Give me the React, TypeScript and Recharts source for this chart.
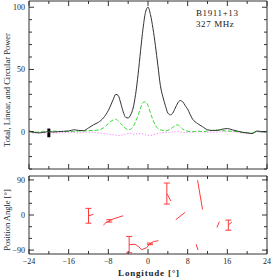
import React from "react";
import {
  Line,
  LineChart,
  ReferenceArea,
  ReferenceLine,
  XAxis,
  YAxis,
  ErrorBar,
} from "recharts";

// longitude grid (deg) for the profile
const lon = [
  -24, -23, -22, -21, -20, -19, -18, -17, -16, -15, -14, -13, -12, -11, -10, -9,
  -8, -7, -6.5, -6, -5.5, -5, -4.5, -4, -3.5, -3, -2.5, -2, -1.5, -1, -0.5, 0,
  0.5, 1, 1.5, 2, 2.5, 3, 3.5, 4, 4.5, 5, 5.5, 6, 6.5, 7, 7.5, 8, 9, 10, 11, 12,
  13, 14, 15, 16, 17, 18, 19, 20, 21, 22, 23, 24,
];
const total = [
  0.5, -0.5, -1, -0.5, 0, -0.3, 0, 0.3, 0.5, 1.5, 1, 0.8, 3, 5.5, 7.5, 11,
  17, 26, 30, 29, 23, 16, 11.5, 11, 13.5, 19, 30, 46, 65, 83, 96, 100,
  94, 83, 69, 53, 37, 28, 21, 15, 13.5, 15, 19, 23, 25, 24, 21, 18, 10, 6.5, 4, 1.5,
  1, 1, 2, 2.5, 1.5, 0.5, -0.5, -1, -1.5, 0.5, 0, 0,
];
const linear = [
  0, -0.5, -0.3, 0.3, 0, 0.5, 0.3, 0, 0.5, 0, 0.5, 0.5, 0.8, 1, 1.3, 3,
  6.5, 9.5, 10, 8.5, 6.5, 4.5, 2.5, 1.5, 2, 4, 8, 13, 19, 23.5, 24, 21,
  15, 9.5, 5, 2.5, 1.5, 1, 0.5, 1, 2, 3.5, 5, 5.5, 4, 2, 1, 0.3, 0, 0.5, 0, 0.5,
  1, 1.5, 1, 0.5, 0.3, 0, -0.5, -0.8, -1, 0.3, -0.3, 0,
];
const circular = [
  -1, -1, -0.5, -1, -0.8, -1, -1, -0.5, -1, -0.5, -1, -0.5, -0.3, -0.5, -1, -1.5,
  -2, -2.5, -2.8, -3, -2.8, -2.5, -2, -1.5, -1.5, -2, -2, -1.5, -1.5, -2, -2.5, -3,
  -3, -2.5, -2, -1.5, -1, -0.8, -0.5, -0.5, -0.5, -0.3, 0, 0, -0.3, -0.5, -0.5, -0.5, -0.3, 0, -0.3, -0.5,
  -0.5, -0.3, 0, 0.3, 0, -0.5, -1, -1.5, -1.5, 0, -0.5, -0.5,
];
const noiseBar = { lon: -20, lo: -4.5, hi: 2.5 };

// position angle segments: [lon, pa, err]
const paSegments: number[][][] = [
  [[-12, -2, 19], [-11, 1.5]],
  [[-9, -26], [-8.5, -20], [-7.8, -15, 3], [-7, -10], [-6, -6], [-5, -2]],
  [[-3.8, -76, 21], [-2.6, -75], [-2, -80], [-1.3, -89], [-0.3, -84], [0.4, -74, 2], [1.1, -68], [2.1, -66]],
  [[3.8, 55, 27], [4.6, 36]],
  [[5.6, -12], [7.5, 7]],
  [[10, 89], [11, 14]],
  [[9.7, -75], [10.1, -90]],
  [[13.9, -32], [14.4, -17]],
  [[16.2, -26, 13], [16.9, -18]],
];

const lonTicks = [-24, -20, -16, -12, -8, -4, 0, 4, 8, 12, 16, 20, 24];
const powerTicks = [-30, -20, -10, 0, 10, 20, 30, 40, 50, 60, 70, 80, 90, 100];
const powerLabels = [0, 50, 100];
const paTicks = [-90, -60, -30, 0, 30, 60, 90];
const paLabels = [-90, 0, 90];

const profile = lon.map((l, i) => ({
  lon: l,
  total: total[i],
  linear: linear[i],
  circular: circular[i],
}));

const FONT = "'Liberation Serif', 'DejaVu Serif', serif";
const INK = "#333";
const PLOT_W = 238;
const TOP_H = 168;
const BOT_H = 78;

const fmt = (v: number) => {
  const r = Math.round(v);
  return r < 0 ? "\u2212" + Math.abs(r) : String(r);
};
const isIn = (list: number[], v: number) => list.some((l) => Math.abs(l - v) < 1e-6);

const XTick = (props: any) => {
  const { x, y, payload, plotH, labelled } = props;
  const v = Number(payload.value);
  const major = Math.abs(Math.round(v) % 8) === 0;
  const len = major ? 5 : 3;
  return (
    <g>
      <line x1={x} x2={x} y1={y} y2={y - len} stroke={INK} />
      <line x1={x} x2={x} y1={y - plotH} y2={y - plotH + len} stroke={INK} />
      {labelled && major && (
        <text x={x} y={y + 10} textAnchor="middle" fontSize={8} fill="#222">
          {fmt(v)}
        </text>
      )}
    </g>
  );
};

const YTick = (props: any) => {
  const { x, y, payload, labels } = props;
  const v = Number(payload.value);
  const major = isIn(labels, v);
  const len = major ? 5 : 3;
  return (
    <g>
      <line x1={x} x2={x + len} y1={y} y2={y} stroke={INK} />
      <line x1={x + PLOT_W} x2={x + PLOT_W - len} y1={y} y2={y} stroke={INK} />
      {major && (
        <text x={x - 4} y={y + 3} textAnchor="end" fontSize={8} fill="#222">
          {fmt(v)}
        </text>
      )}
    </g>
  );
};

const labelStyle: React.CSSProperties = {
  position: "absolute",
  whiteSpace: "nowrap",
  fontFamily: FONT,
  color: "#222",
  lineHeight: 1,
};

const App = () => {
  return (
    <div
      style={{
        position: "absolute",
        left: 0,
        top: 0,
        width: 273,
        height: 278,
        background: "#fff",
        fontFamily: FONT,
      }}
    >
      <div style={{ position: "absolute", left: 0, top: 0 }}>
        <LineChart width={273} height={170} data={profile} margin={{ top: 1, right: 6, bottom: 0, left: 0 }}>
          <XAxis
            dataKey="lon"
            type="number"
            domain={[-24, 24]}
            ticks={lonTicks}
            interval={0}
            height={1}
            axisLine={false}
            tickLine={false}
            tickSize={0}
            tickMargin={0}
            tick={(p: any) => <XTick {...p} plotH={TOP_H} labelled={false} />}
          />
          <YAxis
            type="number"
            domain={[-30, 105]}
            ticks={powerTicks}
            interval={0}
            minTickGap={0}
            width={29}
            axisLine={false}
            tickLine={false}
            tickSize={0}
            tickMargin={0}
            allowDataOverflow
            tick={(p: any) => <YTick {...p} labels={powerLabels} />}
          />
          <ReferenceArea x1={-24} x2={24} y1={-30} y2={105} fill="none" stroke={INK} strokeWidth={1} />
          <ReferenceLine
            segment={[{ x: noiseBar.lon, y: noiseBar.lo }, { x: noiseBar.lon, y: noiseBar.hi }]}
            stroke="#000"
            strokeWidth={3}
          />
          <Line type="monotone" dataKey="circular" stroke="#ff66ff" strokeDasharray="1 2" dot={false} isAnimationActive={false} />
          <Line type="monotone" dataKey="linear" stroke="#33dd33" strokeDasharray="4 2" dot={false} isAnimationActive={false} />
          <Line type="monotone" dataKey="total" stroke="#333" dot={false} isAnimationActive={false} />
        </LineChart>
      </div>
      <div style={{ position: "absolute", left: 0, top: 170 }}>
        <LineChart width={273} height={108} margin={{ top: 6, right: 6, bottom: 0, left: 0 }}>
          <XAxis
            dataKey="lon"
            type="number"
            domain={[-24, 24]}
            ticks={lonTicks}
            interval={0}
            height={24}
            axisLine={false}
            tickLine={false}
            tickSize={0}
            tickMargin={0}
            allowDuplicatedCategory={false}
            tick={(p: any) => <XTick {...p} plotH={BOT_H} labelled />}
          />
          <YAxis
            type="number"
            domain={[-100, 100]}
            ticks={paTicks}
            interval={0}
            minTickGap={0}
            width={29}
            axisLine={false}
            tickLine={false}
            tickSize={0}
            tickMargin={0}
            allowDataOverflow
            tick={(p: any) => <YTick {...p} labels={paLabels} />}
          />
          <ReferenceArea x1={-24} x2={24} y1={-100} y2={100} fill="none" stroke={INK} strokeWidth={1} />
          {paSegments.map((seg, i) => (
            <Line
              key={i}
              data={seg.map(([l, pa, err]) => ({ lon: l, pa, err }))}
              dataKey="pa"
              type="linear"
              stroke="#ff3a3a"
              dot={false}
              isAnimationActive={false}
            >
              <ErrorBar dataKey="err" direction="y" width={3} stroke="#ff3a3a" strokeWidth={1} />
            </Line>
          ))}
        </LineChart>
      </div>
      <div style={{ ...labelStyle, left: 196, top: 9, fontSize: 9, letterSpacing: 0.6 }}>B1911+13</div>
      <div style={{ ...labelStyle, left: 196, top: 20, fontSize: 9, letterSpacing: 0.6 }}>327 MHz</div>
      <div
        style={{
          ...labelStyle,
          left: 7,
          top: 90,
          fontSize: 8.5,
          transform: "translate(-50%, -50%) rotate(-90deg)",
        }}
      >
        Total, Linear, and Circular Power
      </div>
      <div
        style={{
          ...labelStyle,
          left: 7,
          top: 220,
          fontSize: 8.5,
          transform: "translate(-50%, -50%) rotate(-90deg)",
        }}
      >
        Position Angle [°]
      </div>
      <div
        style={{
          ...labelStyle,
          left: 149,
          top: 273,
          fontSize: 9,
          fontWeight: "bold",
          letterSpacing: 0.8,
          transform: "translate(-50%, -50%)",
        }}
      >
        Longitude [°]
      </div>
    </div>
  );
};

export default App;
